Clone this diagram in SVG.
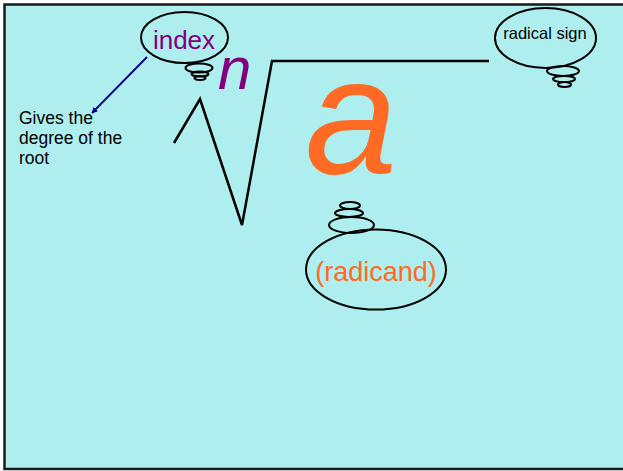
<svg xmlns="http://www.w3.org/2000/svg" width="623" height="471" viewBox="0 0 623 471">
  <defs>
    <style>
      .bub { fill: none; stroke: #000; stroke-width: 2; }
      .sans { font-family: "Liberation Sans", Arial, sans-serif; }
    </style>
    <marker id="ah" viewBox="0 0 10 10" refX="9" refY="5" markerWidth="6" markerHeight="6" orient="auto" markerUnits="userSpaceOnUse">
      <path d="M0,0 L10,5 L0,10 z" fill="#00008B"/>
    </marker>
  </defs>
  <rect x="0" y="0" width="623" height="471" fill="#ffffff"/>
  <rect x="4.5" y="4.5" width="640" height="464.5" fill="#AFEEEE" stroke="#1a1a1a" stroke-width="2.5"/>

  <g id="radical">
    <polyline points="174,143 200,99 242,225 272,61 489,61" fill="none" stroke="#000" stroke-width="2.5" stroke-linejoin="miter"/>
  </g>

  <g id="n-symbol">
    <text x="218" y="89" class="sans" font-size="60" font-style="italic" fill="#800080">n</text>
  </g>

  <g id="a-symbol">
    <text x="305" y="173" class="sans" font-size="166" font-style="italic" fill="#FF6A25">a</text>
  </g>

  <g id="index">
    <ellipse class="bub" cx="184.5" cy="37.5" rx="43.5" ry="25.5"/>
    <text x="184" y="49" class="sans" font-size="26" fill="#800080" text-anchor="middle">index</text>
    <ellipse class="bub" cx="199" cy="68" rx="13.5" ry="4.5"/>
    <ellipse class="bub" cx="200" cy="74" rx="8.5" ry="2.5"/>
    <ellipse class="bub" cx="200" cy="78" rx="5.5" ry="2"/>
  </g>

  <g id="radical-sign">
    <ellipse class="bub" cx="545.5" cy="38" rx="50.5" ry="30"/>
    <text x="545" y="39" class="sans" font-size="16.5" fill="#000" text-anchor="middle">radical sign</text>
    <ellipse class="bub" cx="563" cy="71" rx="16" ry="5"/>
    <ellipse class="bub" cx="564" cy="79" rx="11" ry="3"/>
    <ellipse class="bub" cx="564.5" cy="84.5" rx="6.5" ry="2.5"/>
  </g>

  <g id="radicand">
    <ellipse class="bub" cx="351.5" cy="225" rx="22.5" ry="8"/>
    <ellipse class="bub" cx="349" cy="213" rx="14" ry="4"/>
    <ellipse class="bub" cx="350" cy="205.5" rx="10" ry="3.5"/>
    <ellipse class="bub" cx="376" cy="269.5" rx="70" ry="40"/>
    <text x="376" y="281" class="sans" font-size="27" fill="#FF6A25" text-anchor="middle">(radicand)</text>
  </g>

  <g id="note">
    <text class="sans" font-size="17.5" fill="#000">
      <tspan x="19" y="124">Gives the</tspan>
      <tspan x="19" y="144">degree of the</tspan>
      <tspan x="19" y="164">root</tspan>
    </text>
  </g>

  <g id="connectors">
    <line x1="147" y1="57" x2="92" y2="113" stroke="#00008B" stroke-width="1.8" marker-end="url(#ah)"/>
  </g>
</svg>
